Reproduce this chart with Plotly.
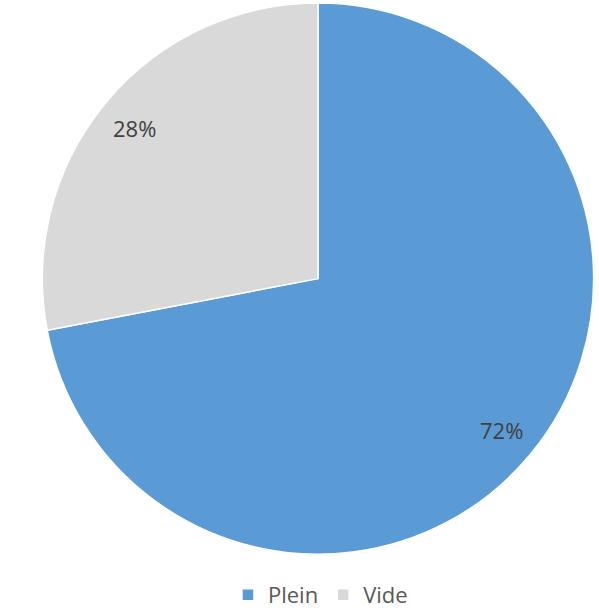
import math
import plotly.graph_objects as go

labels = ["Plein", "Vide"]
values = [72, 28]
colors = ["#5B9BD5", "#D9D9D9"]

W, H = 599, 616
cx, cy, r = 318, 280, 277  # pie centre/radius in pixels

fig = go.Figure(go.Pie(
    labels=labels,
    values=values,
    sort=False,
    direction="clockwise",
    rotation=0,
    marker=dict(colors=colors, line=dict(color="white", width=1.5)),
    textinfo="none",
    hoverinfo="label+percent",
    domain=dict(x=[(cx - r) / W, (cx + r) / W], y=[1 - (cy + r) / H, 1 - (cy - r) / H]),
))

total = sum(values)
cum = 0
annotations = []
for v in values:
    mid = (cum + v / 2) / total * 2 * math.pi
    cum += v
    rr = 0.86 * r
    px = cx + rr * math.sin(mid)
    py = cy - rr * math.cos(mid)
    annotations.append(dict(
        x=px / W, y=1 - py / H, xref="paper", yref="paper",
        xanchor="center", yanchor="middle",
        text=f"{round(v / total * 100)}%", showarrow=False,
        font=dict(size=22, color="#404040", family="Open Sans"),
    ))

fig.update_layout(
    width=W, height=H,
    margin=dict(l=0, r=0, t=0, b=0),
    paper_bgcolor="white",
    plot_bgcolor="white",
    annotations=annotations,
    showlegend=True,
    legend=dict(
        orientation="h", x=0.535, xanchor="center", y=1 - 598 / H, yanchor="middle",
        font=dict(size=22, color="#595959", family="Open Sans"),
        itemwidth=30,
    ),
)

fig.write_html("out.html", config={"displayModeBar": False})

with open("out.html", encoding="utf-8") as f:
    html = f.read()
html = html.replace("<body>", '<body style="margin:0;overflow:hidden">', 1)
with open("out.html", "w", encoding="utf-8") as f:
    f.write(html)
